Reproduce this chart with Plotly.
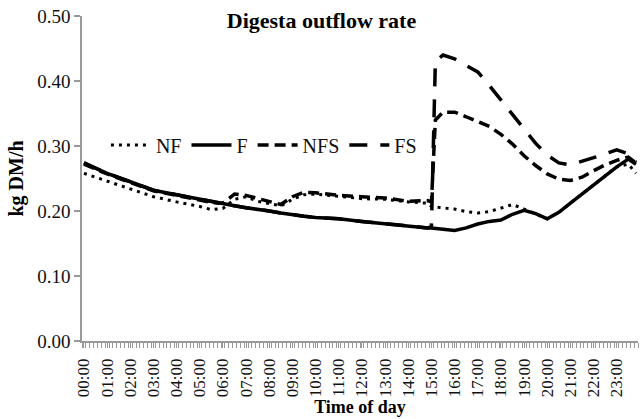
import plotly.graph_objects as go

# Time of day in hours (readings)
hours = [0, 1, 2, 3, 4, 5, 5.5, 6, 6.5, 7, 7.5, 8, 8.5, 9, 9.5, 10, 11, 12, 13, 14,
         14.83, 15.0, 15.17, 15.5, 16, 16.5, 17, 17.5, 18, 18.5, 19, 19.5, 20, 20.5,
         21, 21.5, 22, 22.5, 23, 23.5, 23.83]

nf = [0.258, 0.246, 0.234, 0.222, 0.214, 0.207, 0.202, 0.204, 0.218, 0.222, 0.215, 0.212,
      0.208, 0.218, 0.225, 0.226, 0.222, 0.219, 0.218, 0.214, 0.212, 0.207, 0.206, 0.205,
      0.203, 0.199, 0.197, 0.199, 0.205, 0.210, 0.203, 0.196, 0.188, 0.198, 0.212, 0.226,
      0.240, 0.254, 0.268, 0.272, 0.258]

f = [0.274, 0.258, 0.245, 0.232, 0.225, 0.218, 0.214, 0.211, 0.208, 0.205, 0.203, 0.200,
     0.197, 0.194, 0.192, 0.190, 0.188, 0.184, 0.180, 0.176, 0.174, 0.174, 0.173, 0.172,
     0.170, 0.174, 0.180, 0.184, 0.186, 0.195, 0.201, 0.196, 0.188, 0.198, 0.212, 0.226,
     0.240, 0.254, 0.268, 0.280, 0.272]

nfs = [0.272, 0.257, 0.244, 0.231, 0.224, 0.217, 0.213, 0.212, 0.226, 0.224, 0.219, 0.214,
       0.210, 0.222, 0.229, 0.228, 0.224, 0.222, 0.220, 0.215, 0.216, 0.214, 0.340, 0.352,
       0.352, 0.345, 0.338, 0.330, 0.318, 0.303, 0.285, 0.270, 0.257, 0.249, 0.247, 0.252,
       0.262, 0.271, 0.278, 0.283, 0.274]

fs = [0.274, 0.258, 0.245, 0.232, 0.225, 0.218, 0.214, 0.211, 0.208, 0.205, 0.203, 0.200,
      0.197, 0.194, 0.192, 0.190, 0.188, 0.184, 0.180, 0.176, 0.174, 0.176, 0.430, 0.440,
      0.434, 0.424, 0.414, 0.393, 0.371, 0.348, 0.325, 0.304, 0.286, 0.274, 0.271, 0.276,
      0.282, 0.288, 0.294, 0.288, 0.275]

tick_hours = list(range(24))
tick_labels = [f"{h:02d}:00" for h in tick_hours]

FONT = "Liberation Serif, Times New Roman, serif"
AXIS_GRAY = "#999999"

fig = go.Figure()
fig.add_trace(go.Scatter(x=hours, y=nf, name="NF", mode="lines",
                         line=dict(color="black", width=3, dash="3px,5px")))
fig.add_trace(go.Scatter(x=hours, y=f, name="F", mode="lines",
                         line=dict(color="black", width=3.5)))
fig.add_trace(go.Scatter(x=hours, y=nfs, name="NFS", mode="lines",
                         line=dict(color="black", width=3.5, dash="11px,6px")))
fig.add_trace(go.Scatter(x=hours, y=fs, name="FS", mode="lines",
                         line=dict(color="black", width=3.5, dash="18px,13px")))

fig.update_layout(
    width=643, height=419,
    margin=dict(l=82, r=5, t=16, b=78),
    paper_bgcolor="white", plot_bgcolor="white",
    font=dict(family=FONT, color="#111", size=17),
    title=dict(text="<b>Digesta outflow rate</b>", x=0.5, xref="container",
               xanchor="center", y=0.952, yref="container", yanchor="middle",
               font=dict(family=FONT, size=22, color="#000")),
    showlegend=True,
    legend=dict(orientation="h", x=0.043, xanchor="left", y=0.603, yanchor="middle",
                bgcolor="rgba(0,0,0,0)", font=dict(family=FONT, size=20, color="#111"),
                itemwidth=40, tracegroupgap=0),
)
fig.update_xaxes(
    range=[-1 / 12, 24 - 1 / 12],
    tickmode="array", tickvals=tick_hours, ticktext=tick_labels,
    tickangle=-90, ticks="outside", ticklen=5, tickcolor=AXIS_GRAY, tickwidth=1,
    ticklabelstandoff=4,
    tickfont=dict(family=FONT, size=17, color="#111"),
    minor=dict(ticks="outside", tickmode="linear", tick0=-1 / 12, dtick=1 / 6,
               ticklen=5, tickcolor=AXIS_GRAY, tickwidth=1, showgrid=False),
    showline=True, linecolor=AXIS_GRAY, linewidth=1.5,
    showgrid=False, zeroline=False,
    title=dict(text="<b>Time of day</b>", standoff=4,
               font=dict(family=FONT, size=18, color="#000")),
)
fig.update_yaxes(
    range=[0, 0.5], dtick=0.1, tickformat=".2f",
    ticks="outside", ticklen=6, tickcolor=AXIS_GRAY, tickwidth=1.5,
    tickfont=dict(family=FONT, size=19, color="#111"),
    showline=True, linecolor=AXIS_GRAY, linewidth=1.5,
    showgrid=False, zeroline=False,
    title=dict(text="<b>kg DM/h</b>", standoff=8,
               font=dict(family=FONT, size=20, color="#000")),
)

fig.write_html("out.html")
